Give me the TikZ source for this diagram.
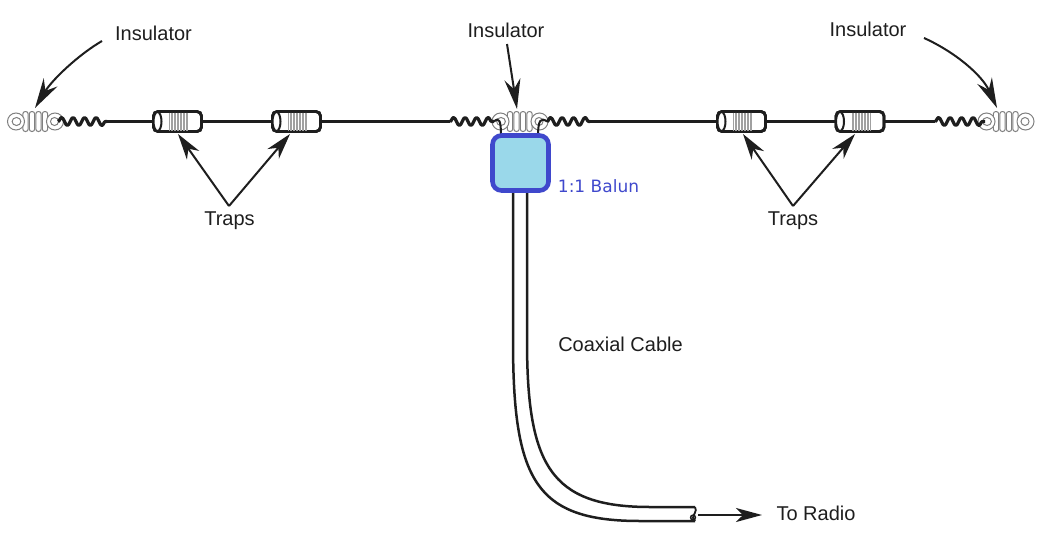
\documentclass[tikz,border=0pt]{standalone}
\usepackage{fontspec}
\setmainfont{Liberation Sans}
\newfontfamily\balunfont{DejaVu Sans}
\usetikzlibrary{arrows.meta,decorations.pathmorphing}
\definecolor{inkblack}{HTML}{1E1E1E}
\definecolor{insulgray}{HTML}{808080}
\definecolor{balunfill}{HTML}{9AD8EA}
\definecolor{balunedge}{HTML}{3F48CC}
\tikzset{
  wire/.style={draw=inkblack,line width=2.5pt},
  coilwire/.style={draw=inkblack,line width=3.2pt,line join=round,
    decorate,decoration={snake,amplitude=4pt,segment length=11.5pt}},
  pointer/.style={draw=inkblack,line width=2pt,-{Stealth[length=30pt,width=16pt,inset=10pt]}},
  smallpointer/.style={draw=inkblack,line width=2pt,-{Stealth[length=26pt,width=15pt,inset=8pt]}},
  label/.style={font=\fontsize{20pt}{22pt}\selectfont,text=inkblack,inner sep=0pt},
  trapbox/.style={draw=inkblack,line width=2.8pt,rounded corners=4.5pt,
    minimum width=48pt,minimum height=20pt,inner sep=0pt},
  insulbox/.style={minimum width=55pt,minimum height=22pt,inner sep=0pt},
  winding/.pic={
    \draw[inkblack,line width=2pt,fill=white] (-20,0) ellipse (4 and 9.5);
    \foreach \dx in {-8,-6.5,...,10}
      \draw[insulgray!75,line width=.9pt] (\dx,-9) -- (\dx,9);
  },
  insulbody/.pic={
    \begin{scope}[draw=insulgray,line width=1pt,fill=white]
      \foreach \dx in {-10,-3.5,3,9.5}
        \draw[fill=white,rounded corners=2.5pt] (\dx-2.7,-10) rectangle (\dx+2.7,10);
      \draw[fill=white] (-19.5,0) ellipse (8.5 and 8.5);
      \draw[fill=white] (19.5,0) ellipse (8.5 and 8.5);
      \draw (-19,0) ellipse (4.4 and 4);
      \draw (19,0) ellipse (4 and 4);
    \end{scope}
  },
}
\begin{document}
\begin{tikzpicture}[x=1pt,y=-1pt]
\useasboundingbox (0,0) rectangle (1043,538);

% insulators, traps and the feed box
\node[insulbox] (insL) at (35.5,121.5) {};
\node[insulbox] (insC) at (520,121.5) {};
\node[insulbox] (insR) at (1006,121.5) {};
\node[trapbox] (trapA) at (177.5,121.5) {};
\node[trapbox] (trapB) at (296.5,121.5) {};
\node[trapbox] (trapC) at (741.5,121.5) {};
\node[trapbox] (trapD) at (860,121.5) {};

% ends of the spring sections
\coordinate (coilLs) at (58,121.5);
\coordinate (coilLe) at (107,121.5);
\coordinate (coilCLs) at (450,121.5);
\coordinate (coilCLe) at (494,121.5);
\coordinate (coilCRs) at (547,121.5);
\coordinate (coilCRe) at (590,121.5);
\coordinate (coilRs) at (935,121.5);
\coordinate (coilRe) at (985,121.5);

% antenna wire
\draw[wire] (coilLe) -- (trapA);
\draw[wire] (trapA) -- (trapB);
\draw[wire] (trapB) -- (coilCLs);
\draw[wire] (coilCRe) -- (trapC);
\draw[wire] (trapC) -- (trapD);
\draw[wire] (trapD) -- (coilRs);

% trap bodies
\foreach \t in {trapA,trapB,trapC,trapD}{
  \draw[wire] (\t.west) ++(-3,0) -- ++(10,0);
  \node[trapbox] at (\t) {};
  \pic at (\t) {winding};
}

% insulators
\foreach \i in {insL,insC,insR}
  \pic at (\i) {insulbody};

% spring sections
\draw[coilwire] (coilLs) -- (coilLe);
\draw[coilwire] (coilCLs) -- (coilCLe);
\draw[coilwire] (coilCRs) -- (coilCRe);
\draw[coilwire] (coilRs) -- (coilRe);

% balun box with its two leads
\coordinate (leadL) at (501,136);
\coordinate (leadR) at (538,136);
\draw[wire,line width=2pt] (coilCLe) .. controls (499,117) and (501,120) .. (leadL);
\draw[wire,line width=2pt] (coilCRs) .. controls (541,117) and (538,120) .. (leadR);
\coordinate (coaxOutTop) at (513,190);
\coordinate (coaxInTop) at (527,190);
\coordinate (coaxOutEnd) at (695,521);
\coordinate (coaxInEnd) at (695,507);
\draw[wire] (coaxOutTop) -- (513,340) .. controls (513,480) and (535,521) .. (640,521) -- (coaxOutEnd);
\draw[wire] (coaxInTop) -- (527,340) .. controls (527,465) and (550,507) .. (650,507) -- (coaxInEnd);
\draw[inkblack,line width=1.8pt] (coaxInEnd) .. controls (698,511) and (692,516) .. (693,518) .. controls (693,520) and (696,520) .. (coaxOutEnd);
\draw[inkblack,line width=1.5pt] (693,517.5) circle (2.4);
\node[draw=balunedge,fill=balunfill,line width=4.6pt,rounded corners=9pt,
      minimum width=56pt,minimum height=55pt,inner sep=0pt] (balun) at (520.5,163) {};

% labels
\node[label] (lblInsL) at (153.5,33.5) {Insulator};
\node[label] (lblInsC) at (506,30.5) {Insulator};
\node[label] (lblInsR) at (868,29) {Insulator};
\node[label] (lblTrapsL) at (229.5,220.5) {Traps};
\node[label] (lblTrapsR) at (793,220.5) {Traps};
\node[label] (lblCoax) at (620.5,344) {Coaxial Cable};
\node[label] (lblRadio) at (816,513.5) {To Radio};
\node[inner sep=0pt,text=balunedge,font=\balunfont\fontsize{17pt}{19pt}\selectfont] (lblBalun) at (598.5,186) {1:1 Balun};

% pointers
\coordinate (ptL) at (35,108);
\coordinate (ptC) at (517,109);
\coordinate (ptR) at (997,108);
\coordinate (ptLs) at (102,41);
\coordinate (ptCs) at (507,44);
\coordinate (ptRs) at (924,38);
\draw[pointer] (ptLs) .. controls (78,55) and (52,80) .. (ptL);
\draw[pointer] (ptCs) -- (ptC);
\draw[pointer] (ptRs) .. controls (955,52) and (982,75) .. (ptR);
\coordinate (trapsLtop) at (229,206);
\coordinate (trapsRtop) at (793,206);
\draw[smallpointer] (trapsLtop) -- (178,134);
\draw[smallpointer] (trapsLtop) -- (290,134);
\draw[smallpointer] (trapsRtop) -- (743,134);
\draw[smallpointer] (trapsRtop) -- (855,134);
\coordinate (arrowStart) at (698,515);
\coordinate (arrowEnd) at (762,515);
\draw[inkblack,line width=1.8pt,-{Stealth[length=26pt,width=14pt,inset=7pt]}] (arrowStart) -- (arrowEnd);
\end{tikzpicture}
\end{document}
